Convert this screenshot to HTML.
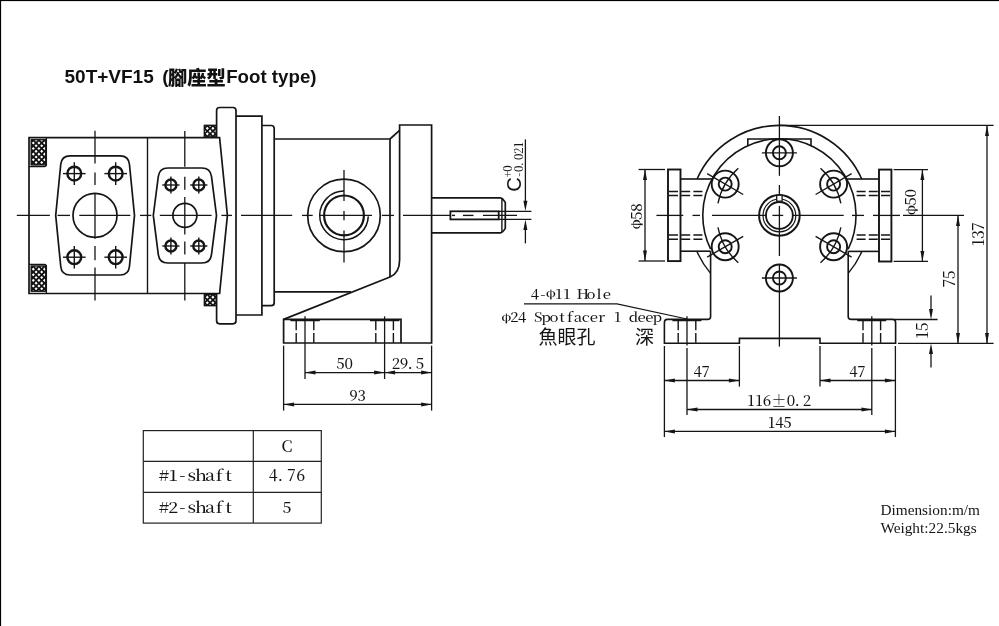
<!DOCTYPE html>
<html><head><meta charset="utf-8"><title>50T+VF15 Foot type</title>
<style>
html,body{margin:0;padding:0;background:#fff;}
body{width:999px;height:626px;overflow:hidden;}
svg{display:block;will-change:transform;}
.sf{font-family:"Liberation Serif","Noto Serif CJK SC",serif;fill:#151515;stroke:none;}
.mf{font-family:"Noto Serif CJK SC","Liberation Serif",serif;font-weight:500;fill:#151515;stroke:none;}
.ss{font-family:"Liberation Sans","Noto Sans CJK TC",sans-serif;fill:#151515;stroke:none;}
.tt{font-family:"Liberation Sans","Noto Sans CJK TC",sans-serif;font-weight:bold;fill:#111;stroke:none;white-space:pre;}
.cj{font-family:"Liberation Sans","Noto Sans CJK TC",sans-serif;font-weight:400;fill:#151515;stroke:none;}
</style></head><body>
<svg width="999" height="626" viewBox="0 0 999 626" stroke="#151515" stroke-linecap="butt">
<rect x="0" y="0" width="999" height="626" fill="#fff" stroke="none"/>
<rect x="0" y="0" width="999" height="1.1" fill="#000" stroke="none"/>
<rect x="0" y="0" width="1.1" height="626" fill="#000" stroke="none"/>
<text y="83.2" font-size="19" class="tt"><tspan x="64.5">50T+VF15</tspan> <tspan x="162.3">(</tspan><tspan x="168" dy="1.8" font-size="19.3" font-weight="900">腳座型</tspan><tspan x="226.2" dy="-1.8" font-size="18.7">Foot type)</tspan></text>
<path d="M29,137.6 H219.6 L227.4,215.4 L219.6,293.5 H29 Z" stroke-width="1.7" fill="none"/>
<line x1="147.50" y1="137.40" x2="147.50" y2="293.50" stroke-width="1.4" />
<clipPath id="hc1"><rect x="31.3" y="139.8" width="14.50" height="25.00"/></clipPath>
<rect x="31.3" y="139.8" width="14.50" height="25.00" fill="#111" stroke="#151515" stroke-width="1.2"/>
<path d="M30.5,138.6l1.55,1.55l-1.55,1.55l-1.55,-1.55zM30.5,144.2l1.55,1.55l-1.55,1.55l-1.55,-1.55zM30.5,149.8l1.55,1.55l-1.55,1.55l-1.55,-1.55zM30.5,155.4l1.55,1.55l-1.55,1.55l-1.55,-1.55zM30.5,161.0l1.55,1.55l-1.55,1.55l-1.55,-1.55zM33.3,141.4l1.55,1.55l-1.55,1.55l-1.55,-1.55zM33.3,147.0l1.55,1.55l-1.55,1.55l-1.55,-1.55zM33.3,152.6l1.55,1.55l-1.55,1.55l-1.55,-1.55zM33.3,158.2l1.55,1.55l-1.55,1.55l-1.55,-1.55zM33.3,163.8l1.55,1.55l-1.55,1.55l-1.55,-1.55zM36.1,138.6l1.55,1.55l-1.55,1.55l-1.55,-1.55zM36.1,144.2l1.55,1.55l-1.55,1.55l-1.55,-1.55zM36.1,149.8l1.55,1.55l-1.55,1.55l-1.55,-1.55zM36.1,155.4l1.55,1.55l-1.55,1.55l-1.55,-1.55zM36.1,161.0l1.55,1.55l-1.55,1.55l-1.55,-1.55zM38.9,141.4l1.55,1.55l-1.55,1.55l-1.55,-1.55zM38.9,147.0l1.55,1.55l-1.55,1.55l-1.55,-1.55zM38.9,152.6l1.55,1.55l-1.55,1.55l-1.55,-1.55zM38.9,158.2l1.55,1.55l-1.55,1.55l-1.55,-1.55zM38.9,163.8l1.55,1.55l-1.55,1.55l-1.55,-1.55zM41.7,138.6l1.55,1.55l-1.55,1.55l-1.55,-1.55zM41.7,144.2l1.55,1.55l-1.55,1.55l-1.55,-1.55zM41.7,149.8l1.55,1.55l-1.55,1.55l-1.55,-1.55zM41.7,155.4l1.55,1.55l-1.55,1.55l-1.55,-1.55zM41.7,161.0l1.55,1.55l-1.55,1.55l-1.55,-1.55zM44.5,141.4l1.55,1.55l-1.55,1.55l-1.55,-1.55zM44.5,147.0l1.55,1.55l-1.55,1.55l-1.55,-1.55zM44.5,152.6l1.55,1.55l-1.55,1.55l-1.55,-1.55zM44.5,158.2l1.55,1.55l-1.55,1.55l-1.55,-1.55zM44.5,163.8l1.55,1.55l-1.55,1.55l-1.55,-1.55zM47.3,138.6l1.55,1.55l-1.55,1.55l-1.55,-1.55zM47.3,144.2l1.55,1.55l-1.55,1.55l-1.55,-1.55zM47.3,149.8l1.55,1.55l-1.55,1.55l-1.55,-1.55zM47.3,155.4l1.55,1.55l-1.55,1.55l-1.55,-1.55zM47.3,161.0l1.55,1.55l-1.55,1.55l-1.55,-1.55z" fill="#fff" stroke="none" clip-path="url(#hc1)"/>
<rect x="31.3" y="139.8" width="14.50" height="25.00" fill="none" stroke="#151515" stroke-width="1.2"/>
<clipPath id="hc2"><rect x="31.3" y="266.1" width="14.50" height="25.00"/></clipPath>
<rect x="31.3" y="266.1" width="14.50" height="25.00" fill="#111" stroke="#151515" stroke-width="1.2"/>
<path d="M30.5,264.8l1.55,1.55l-1.55,1.55l-1.55,-1.55zM30.5,270.4l1.55,1.55l-1.55,1.55l-1.55,-1.55zM30.5,276.0l1.55,1.55l-1.55,1.55l-1.55,-1.55zM30.5,281.6l1.55,1.55l-1.55,1.55l-1.55,-1.55zM30.5,287.2l1.55,1.55l-1.55,1.55l-1.55,-1.55zM33.3,267.6l1.55,1.55l-1.55,1.55l-1.55,-1.55zM33.3,273.2l1.55,1.55l-1.55,1.55l-1.55,-1.55zM33.3,278.8l1.55,1.55l-1.55,1.55l-1.55,-1.55zM33.3,284.4l1.55,1.55l-1.55,1.55l-1.55,-1.55zM33.3,290.0l1.55,1.55l-1.55,1.55l-1.55,-1.55zM36.1,264.8l1.55,1.55l-1.55,1.55l-1.55,-1.55zM36.1,270.4l1.55,1.55l-1.55,1.55l-1.55,-1.55zM36.1,276.0l1.55,1.55l-1.55,1.55l-1.55,-1.55zM36.1,281.6l1.55,1.55l-1.55,1.55l-1.55,-1.55zM36.1,287.2l1.55,1.55l-1.55,1.55l-1.55,-1.55zM38.9,267.6l1.55,1.55l-1.55,1.55l-1.55,-1.55zM38.9,273.2l1.55,1.55l-1.55,1.55l-1.55,-1.55zM38.9,278.8l1.55,1.55l-1.55,1.55l-1.55,-1.55zM38.9,284.4l1.55,1.55l-1.55,1.55l-1.55,-1.55zM38.9,290.0l1.55,1.55l-1.55,1.55l-1.55,-1.55zM41.7,264.8l1.55,1.55l-1.55,1.55l-1.55,-1.55zM41.7,270.4l1.55,1.55l-1.55,1.55l-1.55,-1.55zM41.7,276.0l1.55,1.55l-1.55,1.55l-1.55,-1.55zM41.7,281.6l1.55,1.55l-1.55,1.55l-1.55,-1.55zM41.7,287.2l1.55,1.55l-1.55,1.55l-1.55,-1.55zM44.5,267.6l1.55,1.55l-1.55,1.55l-1.55,-1.55zM44.5,273.2l1.55,1.55l-1.55,1.55l-1.55,-1.55zM44.5,278.8l1.55,1.55l-1.55,1.55l-1.55,-1.55zM44.5,284.4l1.55,1.55l-1.55,1.55l-1.55,-1.55zM44.5,290.0l1.55,1.55l-1.55,1.55l-1.55,-1.55zM47.3,264.8l1.55,1.55l-1.55,1.55l-1.55,-1.55zM47.3,270.4l1.55,1.55l-1.55,1.55l-1.55,-1.55zM47.3,276.0l1.55,1.55l-1.55,1.55l-1.55,-1.55zM47.3,281.6l1.55,1.55l-1.55,1.55l-1.55,-1.55zM47.3,287.2l1.55,1.55l-1.55,1.55l-1.55,-1.55z" fill="#fff" stroke="none" clip-path="url(#hc2)"/>
<rect x="31.3" y="266.1" width="14.50" height="25.00" fill="none" stroke="#151515" stroke-width="1.2"/>
<clipPath id="hc3"><rect x="204.4" y="125.4" width="11.80" height="11.40"/></clipPath>
<rect x="204.4" y="125.4" width="11.80" height="11.40" fill="#111" stroke="#151515" stroke-width="1.2"/>
<path d="M204.5,124.0l1.55,1.55l-1.55,1.55l-1.55,-1.55zM204.5,129.6l1.55,1.55l-1.55,1.55l-1.55,-1.55zM204.5,135.2l1.55,1.55l-1.55,1.55l-1.55,-1.55zM207.3,126.8l1.55,1.55l-1.55,1.55l-1.55,-1.55zM207.3,132.3l1.55,1.55l-1.55,1.55l-1.55,-1.55zM210.1,124.0l1.55,1.55l-1.55,1.55l-1.55,-1.55zM210.1,129.6l1.55,1.55l-1.55,1.55l-1.55,-1.55zM210.1,135.2l1.55,1.55l-1.55,1.55l-1.55,-1.55zM212.9,126.8l1.55,1.55l-1.55,1.55l-1.55,-1.55zM212.9,132.3l1.55,1.55l-1.55,1.55l-1.55,-1.55zM215.7,124.0l1.55,1.55l-1.55,1.55l-1.55,-1.55zM215.7,129.6l1.55,1.55l-1.55,1.55l-1.55,-1.55zM215.7,135.2l1.55,1.55l-1.55,1.55l-1.55,-1.55z" fill="#fff" stroke="none" clip-path="url(#hc3)"/>
<rect x="204.4" y="125.4" width="11.80" height="11.40" fill="none" stroke="#151515" stroke-width="1.2"/>
<clipPath id="hc4"><rect x="204.4" y="294.4" width="11.80" height="11.20"/></clipPath>
<rect x="204.4" y="294.4" width="11.80" height="11.20" fill="#111" stroke="#151515" stroke-width="1.2"/>
<path d="M204.5,292.8l1.55,1.55l-1.55,1.55l-1.55,-1.55zM204.5,298.4l1.55,1.55l-1.55,1.55l-1.55,-1.55zM204.5,304.0l1.55,1.55l-1.55,1.55l-1.55,-1.55zM207.3,295.6l1.55,1.55l-1.55,1.55l-1.55,-1.55zM207.3,301.2l1.55,1.55l-1.55,1.55l-1.55,-1.55zM210.1,292.8l1.55,1.55l-1.55,1.55l-1.55,-1.55zM210.1,298.4l1.55,1.55l-1.55,1.55l-1.55,-1.55zM210.1,304.0l1.55,1.55l-1.55,1.55l-1.55,-1.55zM212.9,295.6l1.55,1.55l-1.55,1.55l-1.55,-1.55zM212.9,301.2l1.55,1.55l-1.55,1.55l-1.55,-1.55zM215.7,292.8l1.55,1.55l-1.55,1.55l-1.55,-1.55zM215.7,298.4l1.55,1.55l-1.55,1.55l-1.55,-1.55zM215.7,304.0l1.55,1.55l-1.55,1.55l-1.55,-1.55z" fill="#fff" stroke="none" clip-path="url(#hc4)"/>
<rect x="204.4" y="294.4" width="11.80" height="11.20" fill="none" stroke="#151515" stroke-width="1.2"/>
<path d="M29,166.6 H44.3 Q46.4,166.6 46.4,164.5 V137.4" stroke-width="1.3" fill="none"/>
<path d="M29,264.3 H44.3 Q46.4,264.3 46.4,266.4 V293.5" stroke-width="1.3" fill="none"/>
<path d="M70.10,155.8 H120.10 Q128.60,155.8 129.44,164.26 L134.50,215.4 L129.44,266.54 Q128.60,275 120.10,275 H70.10 Q61.60,275 60.76,266.54 L55.70,215.4 L60.76,164.26 Q61.60,155.8 70.10,155.8 Z" stroke-width="1.7" fill="none"/>
<path d="M167.90,168 H201.90 Q210.40,168 211.48,176.43 L216.50,215.4 L211.48,254.57 Q210.40,263 201.90,263 H167.90 Q159.40,263 158.32,254.57 L153.30,215.4 L158.32,176.43 Q159.40,168 167.90,168 Z" stroke-width="1.7" fill="none"/>
<circle cx="74.30" cy="173.60" r="6.90" stroke-width="2.4" fill="none"/>
<line x1="63.00" y1="173.60" x2="85.60" y2="173.60" stroke-width="1.4" />
<line x1="74.30" y1="162.30" x2="74.30" y2="184.90" stroke-width="1.4" />
<circle cx="74.30" cy="257.20" r="6.90" stroke-width="2.4" fill="none"/>
<line x1="63.00" y1="257.20" x2="85.60" y2="257.20" stroke-width="1.4" />
<line x1="74.30" y1="245.90" x2="74.30" y2="268.50" stroke-width="1.4" />
<circle cx="115.70" cy="173.60" r="6.90" stroke-width="2.4" fill="none"/>
<line x1="104.40" y1="173.60" x2="127.00" y2="173.60" stroke-width="1.4" />
<line x1="115.70" y1="162.30" x2="115.70" y2="184.90" stroke-width="1.4" />
<circle cx="115.70" cy="257.20" r="6.90" stroke-width="2.4" fill="none"/>
<line x1="104.40" y1="257.20" x2="127.00" y2="257.20" stroke-width="1.4" />
<line x1="115.70" y1="245.90" x2="115.70" y2="268.50" stroke-width="1.4" />
<circle cx="95.00" cy="215.40" r="22.00" stroke-width="1.7" fill="none"/>
<circle cx="170.90" cy="185.00" r="5.50" stroke-width="2.4" fill="none"/>
<line x1="162.30" y1="185.00" x2="179.50" y2="185.00" stroke-width="1.4" />
<line x1="170.90" y1="176.40" x2="170.90" y2="193.60" stroke-width="1.4" />
<circle cx="170.90" cy="246.00" r="5.50" stroke-width="2.4" fill="none"/>
<line x1="162.30" y1="246.00" x2="179.50" y2="246.00" stroke-width="1.4" />
<line x1="170.90" y1="237.40" x2="170.90" y2="254.60" stroke-width="1.4" />
<circle cx="198.80" cy="185.00" r="5.50" stroke-width="2.4" fill="none"/>
<line x1="190.20" y1="185.00" x2="207.40" y2="185.00" stroke-width="1.4" />
<line x1="198.80" y1="176.40" x2="198.80" y2="193.60" stroke-width="1.4" />
<circle cx="198.80" cy="246.00" r="5.50" stroke-width="2.4" fill="none"/>
<line x1="190.20" y1="246.00" x2="207.40" y2="246.00" stroke-width="1.4" />
<line x1="198.80" y1="237.40" x2="198.80" y2="254.60" stroke-width="1.4" />
<circle cx="184.90" cy="215.40" r="12.00" stroke-width="1.7" fill="none"/>
<line x1="95.00" y1="130.80" x2="95.00" y2="163.50" stroke-width="1.3" />
<line x1="95.00" y1="172.50" x2="95.00" y2="185.00" stroke-width="1.3" />
<line x1="95.00" y1="193.50" x2="95.00" y2="238.70" stroke-width="1.3" />
<line x1="95.00" y1="245.90" x2="95.00" y2="260.30" stroke-width="1.3" />
<line x1="95.00" y1="267.40" x2="95.00" y2="300.50" stroke-width="1.3" />
<line x1="184.80" y1="131.00" x2="184.80" y2="166.70" stroke-width="1.3" />
<line x1="184.80" y1="176.80" x2="184.80" y2="189.70" stroke-width="1.3" />
<line x1="184.80" y1="197.00" x2="184.80" y2="234.40" stroke-width="1.3" />
<line x1="184.80" y1="241.50" x2="184.80" y2="254.50" stroke-width="1.3" />
<line x1="184.80" y1="263.00" x2="184.80" y2="300.50" stroke-width="1.3" />
<line x1="16.80" y1="215.40" x2="49.90" y2="215.40" stroke-width="1.3" />
<line x1="57.50" y1="215.40" x2="70.00" y2="215.40" stroke-width="1.3" />
<line x1="79.30" y1="215.40" x2="130.30" y2="215.40" stroke-width="1.3" />
<line x1="140.00" y1="215.40" x2="151.30" y2="215.40" stroke-width="1.3" />
<line x1="159.80" y1="215.40" x2="211.60" y2="215.40" stroke-width="1.3" />
<line x1="221.40" y1="215.40" x2="232.00" y2="215.40" stroke-width="1.3" />
<line x1="241.00" y1="215.40" x2="292.20" y2="215.40" stroke-width="1.3" />
<line x1="302.00" y1="215.40" x2="312.70" y2="215.40" stroke-width="1.3" />
<line x1="320.00" y1="215.40" x2="372.00" y2="215.40" stroke-width="1.3" />
<line x1="382.00" y1="215.40" x2="394.00" y2="215.40" stroke-width="1.3" />
<line x1="403.00" y1="215.40" x2="450.40" y2="215.40" stroke-width="1.3" />
<path d="M216.6,137.6 V110.5 Q216.6,107.5 219.6,107.5 H233 Q236,107.5 236,110.5 V320.8 Q236,323.8 233,323.8 H219.6 Q216.6,323.8 216.6,320.8 V293.5" stroke-width="1.7" fill="none"/>
<path d="M236,116.1 H261.9 V315 H236" stroke-width="1.7" fill="none"/>
<path d="M261.9,125.5 H271.2 Q274.2,125.5 274.2,128.5 V302.7 Q274.2,305.7 271.2,305.7 H261.9" stroke-width="1.7" fill="none"/>
<path d="M274.2,139 H390 V277" stroke-width="1.7" fill="none"/>
<path d="M274.2,291.9 H351" stroke-width="1.7" fill="none"/>
<path d="M390,139 L399.6,130.3" stroke-width="1.7" fill="none"/>
<path d="M399.6,260 V125 H431.6 V343 H283.6 V319.4 H401 V343" stroke-width="1.7" fill="none"/>
<path d="M399.6,260 Q399.6,273 390,277 L283.6,319.4" stroke-width="1.7" fill="none"/>
<line x1="296.20" y1="320.50" x2="296.20" y2="343.00" stroke-width="1.4" stroke-dasharray="9.7 2.8"/>
<line x1="313.80" y1="320.50" x2="313.80" y2="343.00" stroke-width="1.4" stroke-dasharray="9.7 2.8"/>
<line x1="290.40" y1="320.50" x2="319.80" y2="320.50" stroke-width="1.5" />
<line x1="305.00" y1="316.30" x2="305.00" y2="379.00" stroke-width="1.3" />
<line x1="375.80" y1="320.50" x2="375.80" y2="343.00" stroke-width="1.4" stroke-dasharray="9.7 2.8"/>
<line x1="393.40" y1="320.50" x2="393.40" y2="343.00" stroke-width="1.4" stroke-dasharray="9.7 2.8"/>
<line x1="370.00" y1="320.50" x2="399.40" y2="320.50" stroke-width="1.5" />
<line x1="384.60" y1="316.30" x2="384.60" y2="379.00" stroke-width="1.3" />
<circle cx="344.00" cy="215.40" r="36.30" stroke-width="1.7" fill="none"/>
<circle cx="344.00" cy="215.40" r="19.90" stroke-width="2.2" fill="none"/>
<path d="M344,191.10 A24.3,24.3 0 1 0 368.30,216.40" stroke-width="1.5" fill="none"/>
<line x1="344.00" y1="170.00" x2="344.00" y2="201.00" stroke-width="1.3" />
<line x1="344.00" y1="211.00" x2="344.00" y2="220.30" stroke-width="1.3" />
<line x1="344.00" y1="230.40" x2="344.00" y2="262.40" stroke-width="1.3" />
<path d="M431.6,197.8 H500.3 Q502.6,198 505.3,202.4 V228.4 Q502.6,232.6 500.3,232.9 H431.6" stroke-width="1.7" fill="none"/>
<line x1="501.90" y1="198.60" x2="501.90" y2="232.20" stroke-width="1.4" />
<rect x="450.4" y="211.3" width="48.3" height="8.1" fill="#fff" stroke-width="1.8"/>
<line x1="452.00" y1="215.40" x2="455.00" y2="215.40" stroke-width="1.4" />
<line x1="463.00" y1="215.40" x2="473.50" y2="215.40" stroke-width="1.4" />
<line x1="483.00" y1="215.40" x2="517.00" y2="215.40" stroke-width="1.4" />
<line x1="498.40" y1="211.30" x2="531.40" y2="211.30" stroke-width="1.3" />
<line x1="498.40" y1="219.40" x2="531.40" y2="219.40" stroke-width="1.3" />
<line x1="525.40" y1="139.40" x2="525.40" y2="205.00" stroke-width="1.3" />
<polygon points="525.40,211.20 523.40,200.70 527.40,200.70" fill="#151515" stroke="none"/>
<line x1="525.40" y1="225.00" x2="525.40" y2="243.40" stroke-width="1.3" />
<polygon points="525.40,219.50 527.40,230.00 523.40,230.00" fill="#151515" stroke="none"/>
<text transform="translate(521.3,191.8) rotate(-90)" font-size="20.3" class="ss">C</text>
<text x="2.80 8.40" y="0.00" font-size="11.35" text-anchor="middle" class="mf" transform="translate(512,177) rotate(-90)">+0</text>
<text x="2.98 8.93 13.57 20.83 26.78 32.73" y="0.00" font-size="11.35" text-anchor="middle" class="mf" transform="translate(522.5,177.6) rotate(-90)">-0.021</text>
<line x1="283.60" y1="345.60" x2="283.60" y2="410.60" stroke-width="1.3" />
<line x1="431.60" y1="345.60" x2="431.60" y2="410.60" stroke-width="1.3" />
<line x1="305.00" y1="372.60" x2="431.60" y2="372.60" stroke-width="1.3" />
<polygon points="305.00,372.60 315.50,370.60 315.50,374.60" fill="#151515" stroke="none"/>
<polygon points="384.60,372.60 374.10,374.60 374.10,370.60" fill="#151515" stroke="none"/>
<polygon points="384.60,372.60 395.10,370.60 395.10,374.60" fill="#151515" stroke="none"/>
<polygon points="431.60,372.60 421.10,374.60 421.10,370.60" fill="#151515" stroke="none"/>
<line x1="283.60" y1="404.40" x2="431.60" y2="404.40" stroke-width="1.3" />
<polygon points="283.60,404.40 294.10,402.40 294.10,406.40" fill="#151515" stroke="none"/>
<polygon points="431.60,404.40 421.10,406.40 421.10,402.40" fill="#151515" stroke="none"/>
<text x="340.60 348.60" y="369.00" font-size="14.88" text-anchor="middle" class="mf" >50</text>
<text x="396.00 404.00 410.24 420.00" y="369.00" font-size="14.88" text-anchor="middle" class="mf" >29.5</text>
<text x="353.60 361.60" y="400.60" font-size="14.88" text-anchor="middle" class="mf" >93</text>
<path d="M697.09,179.0 A90,90 0 0 1 861.71,179.0" stroke-width="1.6" fill="none"/>
<path d="M696.91,251.4 A90,90 0 0 0 710.60,273.42" stroke-width="1.4" fill="none"/>
<path d="M861.89,251.4 A90,90 0 0 1 848.20,273.42" stroke-width="1.4" fill="none"/>
<path d="M710.60,249.08 A76.6,76.6 0 1 1 848.20,249.08" stroke-width="1.6" fill="none"/>
<path d="M747.80,145.62 V139.0 H811.00 V145.62" stroke-width="1.6" fill="none"/>
<circle cx="779.40" cy="152.80" r="13.5" fill="#fff" stroke-width="1.9"/>
<circle cx="779.40" cy="152.80" r="6.50" stroke-width="1.9" fill="none"/>
<line x1="761.90" y1="152.80" x2="796.90" y2="152.80" stroke-width="1.35" />
<circle cx="725.19" cy="184.10" r="13.5" fill="#fff" stroke-width="1.9"/>
<circle cx="725.19" cy="184.10" r="6.50" stroke-width="1.9" fill="none"/>
<line x1="743.20" y1="194.50" x2="707.17" y2="173.70" stroke-width="1.35" />
<path d="M738.33,168.16 A62.6,62.6 0 0 0 717.95,203.46" stroke-width="1.35" fill="none"/>
<circle cx="725.19" cy="246.70" r="13.5" fill="#fff" stroke-width="1.9"/>
<circle cx="725.19" cy="246.70" r="6.50" stroke-width="1.9" fill="none"/>
<line x1="743.20" y1="236.30" x2="707.17" y2="257.10" stroke-width="1.35" />
<path d="M717.95,227.34 A62.6,62.6 0 0 0 738.33,262.64" stroke-width="1.35" fill="none"/>
<circle cx="779.40" cy="278.00" r="13.5" fill="#fff" stroke-width="1.9"/>
<circle cx="779.40" cy="278.00" r="6.50" stroke-width="1.9" fill="none"/>
<line x1="761.90" y1="278.00" x2="796.90" y2="278.00" stroke-width="1.35" />
<circle cx="833.61" cy="246.70" r="13.5" fill="#fff" stroke-width="1.9"/>
<circle cx="833.61" cy="246.70" r="6.50" stroke-width="1.9" fill="none"/>
<line x1="815.60" y1="236.30" x2="851.63" y2="257.10" stroke-width="1.35" />
<path d="M820.47,262.64 A62.6,62.6 0 0 0 840.85,227.34" stroke-width="1.35" fill="none"/>
<circle cx="833.61" cy="184.10" r="13.5" fill="#fff" stroke-width="1.9"/>
<circle cx="833.61" cy="184.10" r="6.50" stroke-width="1.9" fill="none"/>
<line x1="815.60" y1="194.50" x2="851.63" y2="173.70" stroke-width="1.35" />
<path d="M840.85,203.46 A62.6,62.6 0 0 0 820.47,168.16" stroke-width="1.35" fill="none"/>
<circle cx="779.4" cy="215.4" r="20.3" fill="#fff" stroke-width="2.0"/>
<circle cx="779.40" cy="215.40" r="16.40" stroke-width="1.2" fill="none"/>
<circle cx="779.40" cy="215.40" r="13.40" stroke-width="1.8" fill="none"/>
<rect x="776.70" y="195.2" width="5.4" height="6" fill="#fff" stroke-width="1.3"/>
<line x1="779.40" y1="116.00" x2="779.40" y2="175.80" stroke-width="1.3" />
<line x1="779.40" y1="185.00" x2="779.40" y2="195.00" stroke-width="1.3" />
<line x1="779.40" y1="206.00" x2="779.40" y2="256.00" stroke-width="1.3" />
<line x1="779.40" y1="264.60" x2="779.40" y2="346.60" stroke-width="1.3" />
<line x1="656.40" y1="215.40" x2="683.30" y2="215.40" stroke-width="1.3" />
<line x1="692.50" y1="215.40" x2="700.00" y2="215.40" stroke-width="1.3" />
<line x1="712.00" y1="215.40" x2="766.00" y2="215.40" stroke-width="1.3" />
<line x1="772.40" y1="215.40" x2="783.20" y2="215.40" stroke-width="1.3" />
<line x1="792.80" y1="215.40" x2="843.70" y2="215.40" stroke-width="1.3" />
<line x1="852.00" y1="215.40" x2="864.00" y2="215.40" stroke-width="1.3" />
<line x1="873.00" y1="215.40" x2="900.00" y2="215.40" stroke-width="1.3" />
<line x1="903.00" y1="215.40" x2="964.00" y2="215.40" stroke-width="1.3" />
<rect x="668" y="169.5" width="12.5" height="91.6" fill="none" stroke-width="1.9"/>
<line x1="680.50" y1="179.00" x2="712.00" y2="179.00" stroke-width="1.6" />
<line x1="680.50" y1="251.20" x2="710.60" y2="251.20" stroke-width="1.6" />
<line x1="669.00" y1="191.40" x2="703.50" y2="191.40" stroke-width="1.5" stroke-dasharray="9 3.2"/>
<line x1="669.00" y1="195.60" x2="703.50" y2="195.60" stroke-width="1.5" stroke-dasharray="9 3.2"/>
<line x1="669.00" y1="235.00" x2="703.50" y2="235.00" stroke-width="1.5" stroke-dasharray="9 3.2"/>
<line x1="669.00" y1="239.20" x2="703.50" y2="239.20" stroke-width="1.5" stroke-dasharray="9 3.2"/>
<rect x="879" y="169.6" width="12.4" height="91.9" fill="none" stroke-width="1.9"/>
<line x1="847.00" y1="179.00" x2="879.00" y2="179.00" stroke-width="1.6" />
<line x1="848.20" y1="251.40" x2="879.00" y2="251.40" stroke-width="1.6" />
<line x1="856.60" y1="191.40" x2="891.00" y2="191.40" stroke-width="1.5" stroke-dasharray="9 3.2"/>
<line x1="856.60" y1="195.60" x2="891.00" y2="195.60" stroke-width="1.5" stroke-dasharray="9 3.2"/>
<line x1="856.60" y1="235.00" x2="891.00" y2="235.00" stroke-width="1.5" stroke-dasharray="9 3.2"/>
<line x1="856.60" y1="239.20" x2="891.00" y2="239.20" stroke-width="1.5" stroke-dasharray="9 3.2"/>
<path d="M710.6,251.2 V316.4 Q710.6,319.4 707.6,319.4 H667.4 Q664.4,319.4 664.4,322.4 V343.2 H739.4 V338.4 H820 V343.2 H895.6 V322.4 Q895.6,319.4 892.6,319.4 H851.2 Q848.2,319.4 848.2,316.4 V251.4" stroke-width="1.6" fill="none"/>
<line x1="678.20" y1="320.50" x2="678.20" y2="343.00" stroke-width="1.4" stroke-dasharray="9.7 2.8"/>
<line x1="695.80" y1="320.50" x2="695.80" y2="343.00" stroke-width="1.4" stroke-dasharray="9.7 2.8"/>
<line x1="672.40" y1="320.50" x2="701.40" y2="320.50" stroke-width="1.5" />
<line x1="863.00" y1="320.50" x2="863.00" y2="343.00" stroke-width="1.4" stroke-dasharray="9.7 2.8"/>
<line x1="880.60" y1="320.50" x2="880.60" y2="343.00" stroke-width="1.4" stroke-dasharray="9.7 2.8"/>
<line x1="857.20" y1="320.50" x2="886.20" y2="320.50" stroke-width="1.5" />
<line x1="687.00" y1="316.30" x2="687.00" y2="345.40" stroke-width="1.3" />
<line x1="871.80" y1="316.30" x2="871.80" y2="345.40" stroke-width="1.3" />
<line x1="687.00" y1="348.00" x2="687.00" y2="415.00" stroke-width="1.3" />
<line x1="871.80" y1="348.00" x2="871.80" y2="415.00" stroke-width="1.3" />
<line x1="638.60" y1="169.50" x2="665.00" y2="169.50" stroke-width="1.3" />
<line x1="638.60" y1="261.00" x2="665.00" y2="261.00" stroke-width="1.3" />
<line x1="645.00" y1="169.50" x2="645.00" y2="261.00" stroke-width="1.3" />
<polygon points="645.00,169.50 647.00,180.00 643.00,180.00" fill="#151515" stroke="none"/>
<polygon points="645.00,261.00 643.00,250.50 647.00,250.50" fill="#151515" stroke="none"/>
<text x="-8.40 -0.00 8.40" y="0.00" font-size="15.07" text-anchor="middle" class="mf" transform="translate(641.7,215.8) rotate(-90)"><tspan font-weight="700" dy="-1.66" style="font-size:0.8em">φ</tspan><tspan dy="1.66">58</tspan></text>
<line x1="893.60" y1="169.60" x2="928.00" y2="169.60" stroke-width="1.3" />
<line x1="893.60" y1="261.40" x2="928.00" y2="261.40" stroke-width="1.3" />
<line x1="922.40" y1="169.60" x2="922.40" y2="261.40" stroke-width="1.3" />
<polygon points="922.40,169.60 924.40,180.10 920.40,180.10" fill="#151515" stroke="none"/>
<polygon points="922.40,261.40 920.40,250.90 924.40,250.90" fill="#151515" stroke="none"/>
<text x="-8.40 -0.00 8.40" y="0.00" font-size="15.07" text-anchor="middle" class="mf" transform="translate(916.2,201.6) rotate(-90)"><tspan font-weight="700" dy="-1.66" style="font-size:0.8em">φ</tspan><tspan dy="1.66">50</tspan></text>
<line x1="779.40" y1="125.40" x2="993.60" y2="125.40" stroke-width="1.3" />
<line x1="898.00" y1="343.40" x2="993.60" y2="343.40" stroke-width="1.3" />
<line x1="987.00" y1="125.40" x2="987.00" y2="343.40" stroke-width="1.3" />
<polygon points="987.00,125.40 989.00,135.90 985.00,135.90" fill="#151515" stroke="none"/>
<polygon points="987.00,343.40 985.00,332.90 989.00,332.90" fill="#151515" stroke="none"/>
<line x1="958.00" y1="215.40" x2="958.00" y2="343.40" stroke-width="1.3" />
<polygon points="958.00,215.40 960.00,225.90 956.00,225.90" fill="#151515" stroke="none"/>
<polygon points="958.00,343.40 956.00,332.90 960.00,332.90" fill="#151515" stroke="none"/>
<line x1="894.00" y1="319.50" x2="937.60" y2="319.50" stroke-width="1.3" />
<line x1="931.00" y1="295.40" x2="931.00" y2="312.00" stroke-width="1.3" />
<polygon points="931.00,319.50 929.00,309.00 933.00,309.00" fill="#151515" stroke="none"/>
<line x1="931.00" y1="350.00" x2="931.00" y2="367.60" stroke-width="1.3" />
<polygon points="931.00,343.40 933.00,353.90 929.00,353.90" fill="#151515" stroke="none"/>
<text x="-7.90 -0.00 7.90" y="0.00" font-size="15.62" text-anchor="middle" class="mf" transform="translate(984.4,234.6) rotate(-90)">137</text>
<text x="-4.10 4.10" y="0.00" font-size="15.62" text-anchor="middle" class="mf" transform="translate(955,279) rotate(-90)">75</text>
<text x="-4.10 4.10" y="0.00" font-size="15.62" text-anchor="middle" class="mf" transform="translate(928,331) rotate(-90)">15</text>
<line x1="664.40" y1="346.00" x2="664.40" y2="437.00" stroke-width="1.3" />
<line x1="739.40" y1="346.00" x2="739.40" y2="386.60" stroke-width="1.3" />
<line x1="820.00" y1="346.00" x2="820.00" y2="386.60" stroke-width="1.3" />
<line x1="895.40" y1="346.00" x2="895.40" y2="437.00" stroke-width="1.3" />
<line x1="664.40" y1="380.50" x2="739.40" y2="380.50" stroke-width="1.3" />
<polygon points="664.40,380.50 674.90,378.50 674.90,382.50" fill="#151515" stroke="none"/>
<polygon points="739.40,380.50 728.90,382.50 728.90,378.50" fill="#151515" stroke="none"/>
<line x1="820.00" y1="380.50" x2="895.40" y2="380.50" stroke-width="1.3" />
<polygon points="820.00,380.50 830.50,378.50 830.50,382.50" fill="#151515" stroke="none"/>
<polygon points="895.40,380.50 884.90,382.50 884.90,378.50" fill="#151515" stroke="none"/>
<line x1="687.00" y1="409.50" x2="872.00" y2="409.50" stroke-width="1.3" />
<polygon points="687.00,409.50 697.50,407.50 697.50,411.50" fill="#151515" stroke="none"/>
<polygon points="872.00,409.50 861.50,411.50 861.50,407.50" fill="#151515" stroke="none"/>
<line x1="664.40" y1="431.40" x2="895.40" y2="431.40" stroke-width="1.3" />
<polygon points="664.40,431.40 674.90,429.40 674.90,433.40" fill="#151515" stroke="none"/>
<polygon points="895.40,431.40 884.90,433.40 884.90,429.40" fill="#151515" stroke="none"/>
<text x="697.60 705.60" y="376.80" font-size="14.88" text-anchor="middle" class="mf" >47</text>
<text x="853.40 861.40" y="376.80" font-size="14.88" text-anchor="middle" class="mf" >47</text>
<text x="751.00 759.00 767.00 779.00 791.00 797.24 807.00" y="406.00" font-size="14.88" text-anchor="middle" class="mf" >116±0.2</text>
<text x="771.50 779.50 787.50" y="428.00" font-size="14.88" text-anchor="middle" class="mf" >145</text>
<path d="M524,303.8 H617 L687,319" stroke-width="1.25" fill="none"/>
<text transform="scale(1.143,1)" x="468.07 475.07 482.06 489.06 496.06 503.06 510.06 517.06 524.06 531.06" y="298.60" font-size="13.02" text-anchor="middle" class="mf">4-<tspan font-weight="700" dy="-1.43" style="font-size:0.8em">φ</tspan><tspan dy="1.43">11 Hole</tspan></text>
<text transform="scale(1.143,1)" x="443.02 449.98 456.93 463.89 470.84 477.80 484.76 491.71 498.67 505.62 512.58 519.53 526.49 533.44 540.40 547.35 554.31 561.26 568.22 575.17" y="322.00" font-size="13.02" text-anchor="middle" class="mf"><tspan font-weight="700" dy="-1.43" style="font-size:0.8em">φ</tspan><tspan dy="1.43">24 Spotfacer 1 deep</tspan></text>
<text x="538.5" y="343.8" font-size="19" class="cj">魚眼孔</text>
<text x="635" y="343.8" font-size="19" class="cj">深</text>
<g stroke="#222" stroke-width="1.2" fill="none"><rect x="143.3" y="430.6" width="178" height="92.5"/><line x1="253.3" y1="430.6" x2="253.3" y2="523.1"/><line x1="143.3" y1="461.4" x2="321.3" y2="461.4"/><line x1="143.3" y1="492.4" x2="321.3" y2="492.4"/></g>
<text transform="scale(1.027,1)" x="279.45" y="452.20" font-size="15.35" text-anchor="middle" class="mf">C</text>
<text transform="scale(1.161,1)" x="141.34 149.27 157.19 165.12 173.04 180.96 188.89 196.81" y="481.00" font-size="15.35" text-anchor="middle" class="mf">#1-shaft</text>
<text transform="scale(1.161,1)" x="141.34 149.27 157.19 165.12 173.04 180.96 188.89 196.81" y="513.00" font-size="15.35" text-anchor="middle" class="mf">#2-shaft</text>
<text transform="scale(1.027,1)" x="266.16 273.07 283.89 292.75" y="481.00" font-size="15.35" text-anchor="middle" class="mf">4.76</text>
<text transform="scale(1.027,1)" x="279.45" y="513.00" font-size="15.35" text-anchor="middle" class="mf">5</text>
<text x="880.4" y="514.6" font-size="15.6" textLength="99.6" lengthAdjust="spacingAndGlyphs" class="sf">Dimension:m/m</text>
<text x="880.4" y="532.7" font-size="15.6" textLength="96.3" lengthAdjust="spacingAndGlyphs" class="sf">Weight:22.5kgs</text>
</svg>
</body></html>
